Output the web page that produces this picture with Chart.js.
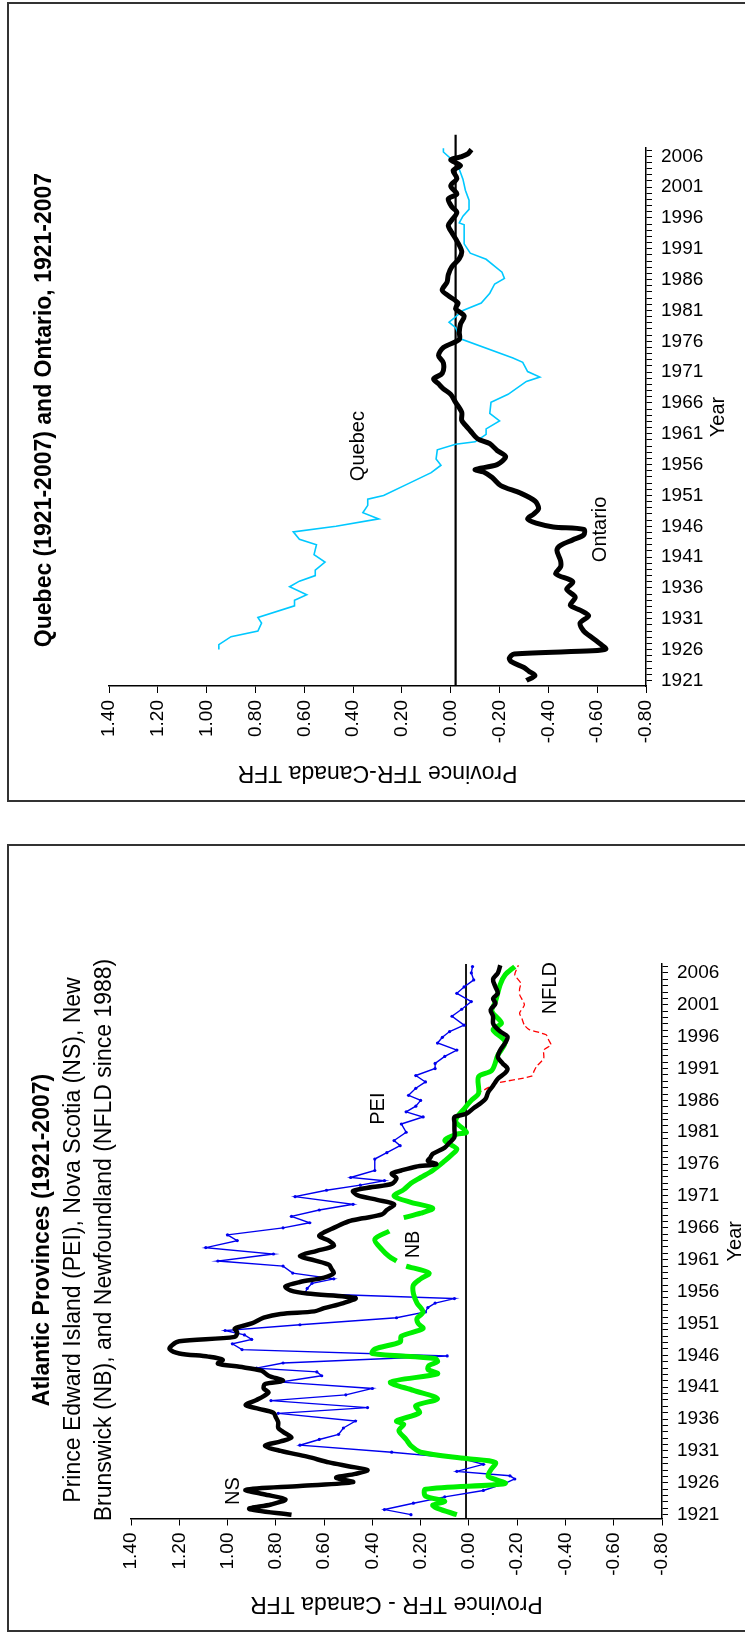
<!DOCTYPE html>
<html>
<head>
<meta charset="utf-8">
<script src="https://cdn.jsdelivr.net/npm/chart.js@4.4.1/dist/chart.umd.min.js"></script>
<style>
  html, body { margin: 0; padding: 0; background: #fff; }
  body { position: relative; width: 745px; height: 1644px; overflow: hidden; }
  .frame { position: absolute; left: 7px; width: 780px; border: 2px solid #333; box-sizing: border-box; }
  canvas { position: absolute; left: 0; }
</style>
</head>
<body>
<div class="frame" style="top:2px;height:800px"></div>
<div class="frame" style="top:844px;height:788px"></div>
<canvas id="quebecChart" width="745" height="802" style="top:0"></canvas>
<canvas id="atlanticChart" width="745" height="790" style="top:844px"></canvas>

<script>
// shared axis ticks
const valueTicks = [1.4, 1.2, 1.0, 0.8, 0.6, 0.4, 0.2, 0.0, -0.2, -0.4, -0.6, -0.8];
const yearTicks = [];
for (let y = 1921; y <= 2007; y++) yearTicks.push(y);
const yearLabels = [1921, 1926, 1931, 1936, 1941, 1946, 1951, 1956, 1961, 1966, 1971, 1976, 1981, 1986, 1991, 1996, 2001, 2006];

// ---- Atlantic provinces ----
const nsYears = [1921.0, 1921.9, 1922.6, 1923.4, 1924.2, 1924.9, 1925.5, 1926.1, 1926.8, 1927.4, 1928.0, 1928.6, 1929.2, 1930.1, 1931.0, 1931.8, 1932.5, 1933.1, 1934.0, 1934.6, 1935.5, 1936.3, 1937.0, 1937.6, 1938.2, 1939.0, 1939.6, 1940.2, 1940.8, 1941.5, 1942.0, 1942.8, 1943.6, 1944.2, 1944.7, 1945.3, 1945.8, 1946.3, 1947.0, 1947.6, 1948.2, 1948.9, 1949.6, 1950.2, 1951.0, 1951.9, 1952.5, 1952.9, 1953.4, 1954.2, 1955.0, 1955.7, 1956.2, 1956.8, 1957.5, 1958.2, 1958.9, 1959.6, 1960.2, 1960.9, 1961.6, 1962.4, 1963.2, 1964.0, 1964.7, 1965.3, 1966.0, 1967.0, 1967.5, 1968.1, 1968.8, 1969.7, 1970.4, 1971.1, 1971.8, 1972.4, 1972.9, 1973.8, 1974.5, 1975.0, 1975.6, 1976.0, 1976.5, 1977.0, 1977.6, 1978.6, 1979.4, 1980.2, 1981.5, 1982.5, 1983.4, 1983.9, 1984.8, 1985.6, 1986.3, 1987.3, 1988.3, 1989.4, 1990.3, 1991.0, 1991.8, 1992.8, 1993.9, 1995.0, 1996.0, 1996.8, 1997.5, 1998.1, 1999.2, 2000.2, 2001.2, 2002.0, 2002.8, 2003.8, 2005.0, 2006.0, 2007.2];
const nsValues = [0.735, 0.91, 0.82, 0.76, 0.85, 0.925, 0.70, 0.48, 0.55, 0.47, 0.42, 0.50, 0.58, 0.67, 0.78, 0.845, 0.78, 0.735, 0.77, 0.79, 0.79, 0.80, 0.81, 0.87, 0.925, 0.88, 0.85, 0.83, 0.85, 0.845, 0.77, 0.83, 0.86, 0.95, 1.04, 1.02, 1.08, 1.20, 1.24, 1.23, 1.20, 0.97, 0.96, 0.97, 0.90, 0.85, 0.78, 0.64, 0.60, 0.52, 0.47, 0.67, 0.74, 0.76, 0.70, 0.60, 0.56, 0.57, 0.58, 0.64, 0.70, 0.63, 0.56, 0.58, 0.62, 0.60, 0.56, 0.50, 0.44, 0.36, 0.34, 0.31, 0.38, 0.46, 0.48, 0.40, 0.32, 0.30, 0.32, 0.28, 0.22, 0.135, 0.17, 0.16, 0.15, 0.10, 0.08, 0.06, 0.06, 0.06, 0.06, 0.01, -0.02, -0.05, -0.07, -0.08, -0.10, -0.12, -0.15, -0.16, -0.14, -0.12, -0.13, -0.15, -0.16, -0.13, -0.11, -0.10, -0.10, -0.09, -0.11, -0.10, -0.12, -0.11, -0.10, -0.12, -0.13];

const peiYears = [1921.0, 1921.8, 1922.8, 1923.8, 1924.8, 1925.9, 1926.6, 1927.1, 1927.8, 1928.9, 1929.8, 1930.8, 1931.9, 1932.8, 1933.6, 1934.6, 1935.7, 1936.9, 1937.8, 1938.9, 1939.8, 1940.8, 1941.8, 1942.8, 1943.4, 1944.0, 1944.8, 1945.9, 1946.9, 1947.8, 1948.5, 1949.2, 1949.9, 1950.8, 1951.9, 1952.8, 1953.5, 1954.2, 1954.9, 1955.7, 1956.5, 1957.3, 1958.0, 1958.9, 1960.0, 1960.8, 1961.9, 1962.9, 1964.0, 1964.9, 1966.0, 1966.8, 1967.8, 1968.8, 1969.7, 1970.9, 1971.9, 1972.7, 1973.4, 1973.9, 1975.0, 1976.8, 1977.8, 1978.9, 1979.7, 1981.0, 1982.3, 1983.4, 1984.2, 1985.1, 1986.0, 1986.8, 1987.9, 1988.9, 1989.9, 1991.0, 1991.8, 1992.9, 1993.9, 1995.0, 1995.9, 1996.8, 1997.8, 1999.2, 2000.3, 2001.5, 2002.8, 2003.8, 2004.9, 2006.0, 2007.0];
const peiValues = [0.24, 0.35, 0.23, 0.10, -0.06, -0.15, -0.19, -0.17, 0.05, -0.06, 0.03, 0.32, 0.70, 0.62, 0.54, 0.52, 0.47, 0.79, 0.42, 0.82, 0.51, 0.40, 0.78, 0.61, 0.63, 0.88, 0.77, 0.09, 0.94, 0.98, 0.90, 0.93, 1.01, 0.70, 0.30, 0.18, 0.17, 0.14, 0.06, 0.68, 0.67, 0.65, 0.56, 0.73, 0.77, 1.04, 0.81, 1.09, 0.96, 1.00, 0.77, 0.66, 0.735, 0.62, 0.48, 0.72, 0.59, 0.45, 0.35, 0.49, 0.39, 0.39, 0.34, 0.285, 0.31, 0.26, 0.28, 0.19, 0.26, 0.22, 0.20, 0.25, 0.22, 0.18, 0.22, 0.14, 0.14, 0.10, 0.05, 0.13, 0.11, 0.08, 0.02, 0.07, 0.03, -0.01, 0.05, 0.02, -0.02, -0.01, -0.015];

// null = gap where the NB label sits
const nbYears = [1921.0, 1922.0, 1922.5, 1923.1, 1923.9, 1925.0, 1925.9, 1927.0, 1928.0, 1929.2, 1929.8, 1930.8, 1931.8, 1932.8, 1934.2, 1935.2, 1935.7, 1937.0, 1938.1, 1939.2, 1940.5, 1941.8, 1943.1, 1943.8, 1944.4, 1945.0, 1945.5, 1946.3, 1947.0, 1948.1, 1949.0, 1950.2, 1951.0, 1951.8, 1952.8, 1954.2, 1955.7, 1957.0, 1958.0, 1958.9, 1960.0, 1960.4, 1960.8, 1961.5, 1962.6, 1964.2, 1965.5, 1966.5, 1967.6, 1968.3, 1969.1, 1970.0, 1971.0, 1972.0, 1973.0, 1973.9, 1975.0, 1976.5, 1977.5, 1978.4, 1979.7, 1980.7, 1981.0, 1982.8, 1984.9, 1986.0, 1987.1, 1989.7, 1990.7, 1993.1, 1995.2, 1997.1, 1998.1, 2000.0, 2001.5, 2004.2, 2005.7, 2007.0];
const nbValues = [0.05, 0.13, 0.15, 0.10, 0.18, 0.18, -0.15, -0.08, -0.09, -0.11, 0.01, 0.20, 0.24, 0.26, 0.29, 0.27, 0.30, 0.205, 0.22, 0.13, 0.23, 0.325, 0.13, 0.17, 0.165, 0.13, 0.14, 0.40, 0.39, 0.285, 0.28, 0.19, 0.21, 0.215, 0.19, 0.215, 0.23, 0.23, 0.20, 0.165, 0.26, null, 0.30, 0.33, 0.36, 0.39, 0.33, null, 0.27, 0.20, 0.15, 0.24, 0.31, 0.27, 0.24, 0.20, 0.15, 0.10, 0.07, 0.05, 0.10, 0.05, 0.01, 0.055, 0.015, -0.01, -0.04, -0.04, -0.095, -0.12, -0.15, -0.10, -0.135, -0.095, -0.11, -0.13, -0.15, -0.19];

const nfldYears = [1987.0, 1988.0, 1988.6, 1989.8, 1990.6, 1991.3, 1992.6, 1993.9, 1994.7, 1995.5, 1996.3, 1997.1, 1997.8, 1998.8, 1999.7, 2001.0, 2002.6, 2003.5, 2004.4, 2005.7, 2007.2];
const nfldValues = [-0.03, -0.08, -0.10, -0.26, -0.27, -0.28, -0.31, -0.31, -0.34, -0.33, -0.32, -0.25, -0.23, -0.22, -0.21, -0.23, -0.21, -0.21, -0.215, -0.19, -0.205];

// ---- Quebec and Ontario ----
const quebecYears = [1926.0, 1926.8, 1928.1, 1929.0, 1930.3, 1931.2, 1933.1, 1934.0, 1934.9, 1936.2, 1937.1, 1938.0, 1938.9, 1940.2, 1941.4, 1943.0, 1943.9, 1945.1, 1946.0, 1947.2, 1948.2, 1949.4, 1950.4, 1951.0, 1952.8, 1954.7, 1955.9, 1956.9, 1958.4, 1959.3, 1959.7, 1960.9, 1961.8, 1963.1, 1964.3, 1966.1, 1967.4, 1969.5, 1970.2, 1971.1, 1972.6, 1973.3, 1976.4, 1978.2, 1979.1, 1979.8, 1981.0, 1982.2, 1983.8, 1985.3, 1986.2, 1987.2, 1989.3, 1990.3, 1991.8, 1994.9, 1995.2, 1996.3, 1997.4, 1998.9, 2000.5, 2002.3, 2003.9, 2004.5, 2005.1, 2006.7, 2007.3];
const quebecValues = [0.95, 0.95, 0.90, 0.79, 0.775, 0.79, 0.64, 0.64, 0.59, 0.66, 0.62, 0.555, 0.555, 0.515, 0.56, 0.55, 0.62, 0.645, 0.47, 0.295, 0.36, 0.34, 0.34, 0.275, 0.18, 0.08, 0.04, 0.06, 0.055, -0.02, -0.10, -0.145, -0.145, -0.20, -0.16, -0.165, -0.235, -0.31, -0.365, -0.315, -0.295, -0.255, -0.04, -0.02, 0.007, -0.015, -0.05, -0.125, -0.16, -0.18, -0.22, -0.21, -0.145, -0.08, -0.055, -0.055, -0.035, -0.05, -0.075, -0.075, -0.06, -0.05, -0.035, -0.04, -0.015, 0.03, 0.03];

const ontarioYears = [1921.0, 1921.8, 1922.5, 1923.1, 1924.0, 1924.6, 1925.3, 1925.8, 1926.1, 1926.7, 1927.3, 1928.2, 1929.0, 1930.3, 1931.5, 1932.4, 1933.2, 1934.5, 1935.8, 1937.0, 1938.3, 1939.4, 1940.4, 1942.1, 1942.9, 1943.8, 1944.6, 1945.5, 1945.9, 1946.5, 1947.2, 1948.0, 1948.9, 1950.1, 1951.4, 1952.6, 1953.9, 1954.8, 1955.2, 1956.0, 1957.3, 1958.3, 1959.4, 1960.2, 1961.5, 1962.4, 1963.2, 1964.5, 1966.1, 1967.4, 1968.3, 1969.1, 1969.9, 1970.8, 1972.5, 1973.7, 1975.0, 1976.3, 1977.5, 1978.8, 1980.1, 1981.3, 1982.2, 1983.4, 1984.3, 1985.6, 1986.8, 1988.1, 1989.4, 1990.6, 1992.3, 1993.6, 1994.8, 1995.7, 1996.9, 1997.8, 1999.1, 1999.9, 2001.2, 2002.4, 2003.7, 2004.5, 2005.4, 2005.9, 2006.4, 2007.1];
const ontarioValues = [-0.31, -0.345, -0.32, -0.30, -0.25, -0.24, -0.26, -0.58, -0.635, -0.62, -0.60, -0.57, -0.545, -0.53, -0.565, -0.53, -0.49, -0.51, -0.475, -0.50, -0.43, -0.45, -0.45, -0.435, -0.45, -0.50, -0.545, -0.545, -0.42, -0.35, -0.315, -0.34, -0.36, -0.345, -0.285, -0.205, -0.17, -0.135, -0.10, -0.19, -0.225, -0.19, -0.16, -0.11, -0.08, -0.06, -0.045, -0.045, -0.02, 0.00, 0.03, 0.05, 0.07, 0.035, 0.03, 0.05, 0.03, -0.035, -0.035, -0.04, -0.055, -0.02, -0.03, 0.01, 0.035, 0.015, 0.01, -0.005, -0.035, -0.045, -0.025, -0.005, 0.01, -0.005, -0.025, -0.005, 0.01, -0.025, 0.00, -0.025, -0.01, -0.04, 0.00, -0.04, -0.07, -0.085];

// reference lines (the "zero" line sits a hair off the 0.00 tick in the original)
const atlanticRefYears = [1920.4, 2007.4];
const atlanticRefValues = [0.012, 0.012];
const quebecRefYears = [1920.1, 2009.5];
const quebecRefValues = [-0.02, -0.02];

Chart.defaults.font.family = '"Liberation Sans", Arial, Helvetica, sans-serif';
Chart.defaults.color = '#000';

function toPoints(years, values) {
  return years.map((y, i) => ({ x: values[i], y: y }));
}

function drawText(ctx, text, x, y, font, angle) {
  ctx.save();
  ctx.translate(x, y);
  ctx.rotate(angle);
  ctx.font = font;
  ctx.fillStyle = '#000';
  ctx.textAlign = 'center';
  ctx.textBaseline = 'middle';
  ctx.fillText(text, 0, 0);
  ctx.restore();
}

const UP = -Math.PI / 2;
const FONT = '"Liberation Sans", Arial, sans-serif';

function buildChart(canvasId, setup) {
  const ctx = document.getElementById(canvasId).getContext('2d');
  return new Chart(ctx, {
    type: 'line',
    data: { datasets: setup.datasets },
    options: {
      responsive: false,
      animation: false,
      events: [],
      indexAxis: 'y',
      layout: { padding: setup.padding },
      elements: { point: { radius: 0 } },
      plugins: { legend: { display: false }, tooltip: { enabled: false } },
      scales: {
        x: {
          type: 'linear',
          position: 'bottom',
          reverse: true,
          min: -0.8,
          max: 1.4,
          afterBuildTicks: (s) => { s.ticks = valueTicks.map((v) => ({ value: v })); },
          afterFit: (s) => { s.height = setup.xAxisHeight; },
          ticks: {
            minRotation: 90,
            maxRotation: 90,
            padding: 7,
            font: { size: 19 },
            callback: (v) => (Math.abs(v) < 1e-9 ? 0 : v).toFixed(2),
          },
          grid: { drawOnChartArea: false, tickLength: 7, color: '#000', lineWidth: 1 },
          border: { color: '#000', width: 1.5 },
        },
        y: {
          type: 'linear',
          position: 'right',
          min: setup.yearMin,
          max: setup.yearMax,
          afterBuildTicks: (s) => { s.ticks = yearTicks.map((v) => ({ value: v })); },
          afterFit: (s) => { s.width = setup.yAxisWidth; },
          ticks: {
            autoSkip: false,
            padding: 9,
            font: { size: 19 },
            callback: (v) => (yearLabels.includes(v) ? String(v) : ''),
          },
          grid: { drawOnChartArea: false, tickLength: 6, color: '#000', lineWidth: 1 },
          border: { color: '#000', width: 1.5 },
        },
      },
    },
    plugins: [{
      id: 'panelText',
      afterDraw(chart) {
        const c = chart.ctx;
        const xs = chart.scales.x, ys = chart.scales.y;
        setup.titleLines.forEach((t) => drawText(c, t.text, t.x, setup.titleY, t.font, UP));
        drawText(c, setup.axisTitle, (chart.chartArea.left + chart.chartArea.right) / 2, setup.axisTitleY, '23px ' + FONT, Math.PI);
        drawText(c, 'Year', setup.yearTitleX, (chart.chartArea.top + chart.chartArea.bottom) / 2, '20px ' + FONT, UP);
        setup.seriesLabels.forEach((l) => {
          drawText(c, l.text, xs.getPixelForValue(l.value), ys.getPixelForValue(l.year), '20px ' + FONT, UP);
        });
      },
    }],
  });
}

// top panel: Quebec and Ontario
buildChart('quebecChart', {
  padding: { left: 109, top: 148, right: 0, bottom: 0 },
  xAxisHeight: 116,
  yAxisWidth: 99,
  yearMin: 1920.1,
  yearMax: 2007.35,
  titleY: 410,
  titleLines: [
    { text: 'Quebec (1921-2007) and Ontario, 1921-2007', x: 45, font: 'bold 23px ' + FONT },
  ],
  axisTitle: 'Province TFR-Canada TFR',
  axisTitleY: 772,
  yearTitleX: 718,
  seriesLabels: [
    { text: 'Quebec', value: 0.377, year: 1959 },
    { text: 'Ontario', value: -0.613, year: 1945.5 },
  ],
  datasets: [
    { label: 'Ontario', data: toPoints(ontarioYears, ontarioValues), borderColor: '#000', borderWidth: 5, tension: 0.3 },
    { label: 'Quebec', data: toPoints(quebecYears, quebecValues), borderColor: '#00c8ff', borderWidth: 1.6, tension: 0 },
    { label: 'zero', data: toPoints(quebecRefYears, quebecRefValues), borderColor: '#000', borderWidth: 2.2, clip: false },
  ],
});

// bottom panel: Atlantic provinces
buildChart('atlanticChart', {
  padding: { left: 131, top: 120, right: 0, bottom: 0 },
  xAxisHeight: 115.5,
  yAxisWidth: 83,
  yearMin: 1920.4,
  yearMax: 2007.4,
  titleY: 396,
  titleLines: [
    { text: 'Atlantic Provinces (1921-2007)', x: 43, font: 'bold 23px ' + FONT },
    { text: 'Prince Edward Island (PEI), Nova Scotia (NS), New', x: 74, font: '23px ' + FONT },
    { text: 'Brunswick (NB), and Newfoundland (NFLD since 1988)', x: 105, font: '23px ' + FONT },
  ],
  axisTitle: 'Province TFR - Canada TFR',
  axisTitleY: 759,
  yearTitleX: 735,
  seriesLabels: [
    { text: 'NS', value: 0.977, year: 1924.7 },
    { text: 'PEI', value: 0.376, year: 1984.7 },
    { text: 'NB', value: 0.229, year: 1963.4 },
    { text: 'NFLD', value: -0.338, year: 2003.6 },
  ],
  datasets: [
    { label: 'NS', data: toPoints(nsYears, nsValues), borderColor: '#000', borderWidth: 4.5, tension: 0.3 },
    { label: 'NB', data: toPoints(nbYears, nbValues), borderColor: '#00f000', borderWidth: 5, tension: 0.3 },
    { label: 'PEI', data: toPoints(peiYears, peiValues), borderColor: '#0000ee', borderWidth: 1.4, tension: 0,
      pointRadius: 1.6, pointBackgroundColor: '#0000ee', pointBorderWidth: 0 },
    { label: 'NFLD', data: toPoints(nfldYears, nfldValues), borderColor: '#ff0000', borderWidth: 1.3, borderDash: [6, 3], tension: 0.2 },
    { label: 'zero', data: toPoints(atlanticRefYears, atlanticRefValues), borderColor: '#000', borderWidth: 1.8 },
  ],
});
</script>
</body>
</html>
